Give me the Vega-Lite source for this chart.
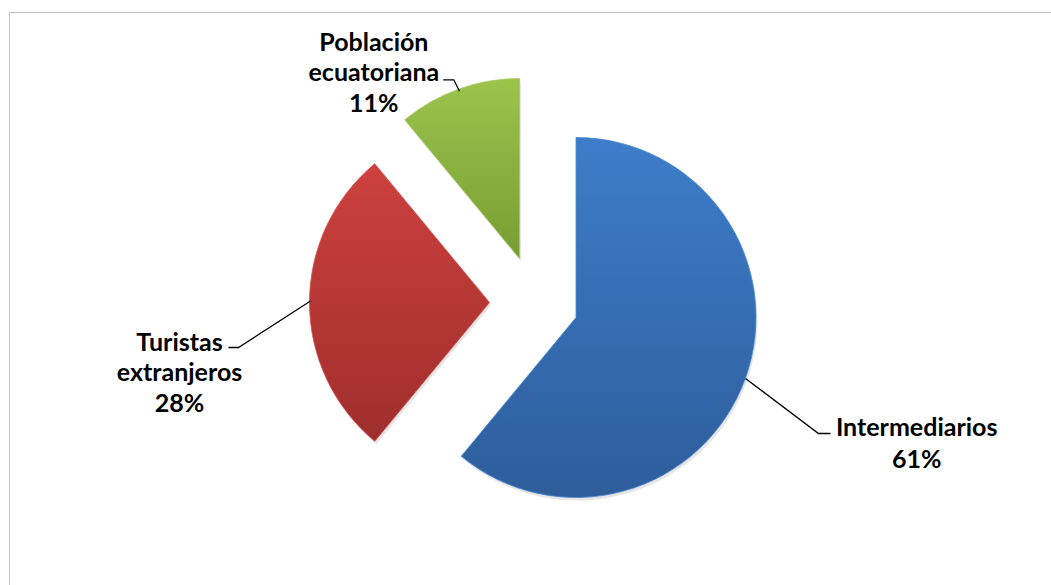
{
  "$schema": "https://vega.github.io/schema/vega-lite/v6.json",
  "width": 1043,
  "height": 574,
  "autosize": "none",
  "padding": {"left": 9, "top": 12, "right": -1, "bottom": -1},
  "background": "white",
  "config": {
    "view": {"stroke": "#c0c0c0", "strokeWidth": 1},
    "style": {"view": {"stroke": "#c0c0c0", "strokeWidth": 1}, "cell": {"stroke": "#c0c0c0", "strokeWidth": 1}},
    "text": {"font": "Lato", "fontWeight": "bold", "fontSize": 25, "color": "black"}
  },
  "data": {
    "values": [
      {"cat": "Intermediarios", "name": "Intermediarios", "value": 61},
      {"cat": "Turistas extranjeros", "name": "Turistas\nextranjeros", "value": 28},
      {"cat": "Población ecuatoriana", "name": "Población\necuatoriana", "value": 11}
    ]
  },
  "transform": [{"calculate": "datum.name + '\\n' + datum.value + '%'", "as": "label"}],
  "layer": [
    {
      "transform": [{"stack": "value", "groupby": [], "as": ["v0", "v1"]}, {"filter": "datum.cat === 'Intermediarios'"}],
      "mark": {"type": "arc", "outerRadius": 180, "xOffset": 47, "yOffset": 21.5, "fill": "#000000", "opacity": 0.1},
      "encoding": {"theta": {"field": "v0", "type": "quantitative"}, "theta2": {"field": "v1"}}
    },
    {
      "transform": [{"stack": "value", "groupby": [], "as": ["v0", "v1"]}, {"filter": "datum.cat === 'Turistas extranjeros'"}],
      "mark": {"type": "arc", "outerRadius": 180, "xOffset": -39.5, "yOffset": 6.5, "fill": "#000000", "opacity": 0.1},
      "encoding": {"theta": {"field": "v0", "type": "quantitative"}, "theta2": {"field": "v1"}}
    },
    {
      "transform": [{"stack": "value", "groupby": [], "as": ["v0", "v1"]}, {"filter": "datum.cat === 'Población ecuatoriana'"}],
      "mark": {"type": "arc", "outerRadius": 180, "xOffset": -9.5, "yOffset": -37.5, "fill": "#000000", "opacity": 0.1},
      "encoding": {"theta": {"field": "v0", "type": "quantitative"}, "theta2": {"field": "v1"}}
    },
    {
      "transform": [{"stack": "value", "groupby": [], "as": ["v0", "v1"]}, {"filter": "datum.cat === 'Intermediarios'"}],
      "mark": {"type": "arc", "outerRadius": 180, "xOffset": 45.5, "yOffset": 18.5, "stroke": "#4a88d4", "strokeWidth": 0.8,
        "fill": {"gradient": "linear", "x1": 0, "y1": 0, "x2": 0, "y2": 1, "stops": [{"offset": 0, "color": "#3d7dc9"}, {"offset": 1, "color": "#2e5d9b"}]}},
      "encoding": {"theta": {"field": "v0", "type": "quantitative"}, "theta2": {"field": "v1"}}
    },
    {
      "transform": [{"stack": "value", "groupby": [], "as": ["v0", "v1"]}, {"filter": "datum.cat === 'Turistas extranjeros'"}],
      "mark": {"type": "arc", "outerRadius": 180, "xOffset": -41, "yOffset": 3.5, "stroke": "#d34f4c", "strokeWidth": 0.8,
        "fill": {"gradient": "linear", "x1": 0, "y1": 0, "x2": 0, "y2": 1, "stops": [{"offset": 0, "color": "#cd413e"}, {"offset": 1, "color": "#9f2e2c"}]}},
      "encoding": {"theta": {"field": "v0", "type": "quantitative"}, "theta2": {"field": "v1"}}
    },
    {
      "transform": [{"stack": "value", "groupby": [], "as": ["v0", "v1"]}, {"filter": "datum.cat === 'Población ecuatoriana'"}],
      "mark": {"type": "arc", "outerRadius": 180, "xOffset": -11, "yOffset": -40.5, "stroke": "#a3c95a", "strokeWidth": 0.8,
        "fill": {"gradient": "linear", "x1": 0, "y1": 0, "x2": 0, "y2": 1, "stops": [{"offset": 0, "color": "#9bc44c"}, {"offset": 1, "color": "#789d33"}]}},
      "encoding": {"theta": {"field": "v0", "type": "quantitative"}, "theta2": {"field": "v1"}}
    },
    {
      "transform": [{"filter": "datum.cat === 'Intermediarios'"}],
      "mark": {"type": "point", "shape": "M1.695,0.61L2.425,1.16L2.545,1.16", "size": 40000, "filled": false, "color": "black", "strokeWidth": 1.3, "opacity": 1, "xOffset": 45.5, "yOffset": 18.5},
      "encoding": {}
    },
    {
      "transform": [{"filter": "datum.cat === 'Turistas extranjeros'"}],
      "mark": {"type": "point", "shape": "M-1.79,-0.015L-2.51,0.45L-2.61,0.45", "size": 40000, "filled": false, "color": "black", "strokeWidth": 1.3, "opacity": 1, "xOffset": -41, "yOffset": 3.5},
      "encoding": {}
    },
    {
      "transform": [{"filter": "datum.cat === 'Población ecuatoriana'"}],
      "mark": {"type": "point", "shape": "M-0.6,-1.673L-0.657,-1.787L-0.763,-1.787", "size": 40000, "filled": false, "color": "black", "strokeWidth": 1.3, "opacity": 1, "xOffset": -11, "yOffset": -40.5},
      "encoding": {}
    },
    {
      "mark": {"type": "text", "radius": 361, "dx": 1, "dy": -4, "xOffset": 45.5, "yOffset": 18.5, "align": "center", "baseline": "alphabetic", "lineBreak": "\n", "lineHeight": 32},
      "encoding": {
        "theta": {"field": "value", "type": "quantitative", "stack": true},
        "order": {"field": "value", "sort": "descending"},
        "text": {"condition": {"test": "datum.cat === 'Intermediarios'", "field": "label"}, "value": ""}
      }
    },
    {
      "mark": {"type": "text", "radius": 310, "dx": 0, "dy": 48, "xOffset": -41, "yOffset": 3.5, "align": "center", "baseline": "alphabetic", "lineBreak": "\n", "lineHeight": 30.5},
      "encoding": {
        "theta": {"field": "value", "type": "quantitative", "stack": true},
        "order": {"field": "value", "sort": "descending"},
        "text": {"condition": {"test": "datum.cat === 'Turistas extranjeros'", "field": "label"}, "value": ""}
      }
    },
    {
      "mark": {"type": "text", "radius": 244, "dx": -63, "dy": 22, "xOffset": -11, "yOffset": -40.5, "align": "center", "baseline": "alphabetic", "lineBreak": "\n", "lineHeight": 30.5},
      "encoding": {
        "theta": {"field": "value", "type": "quantitative", "stack": true},
        "order": {"field": "value", "sort": "descending"},
        "text": {"condition": {"test": "datum.cat === 'Población ecuatoriana'", "field": "label"}, "value": ""}
      }
    }
  ]
}
